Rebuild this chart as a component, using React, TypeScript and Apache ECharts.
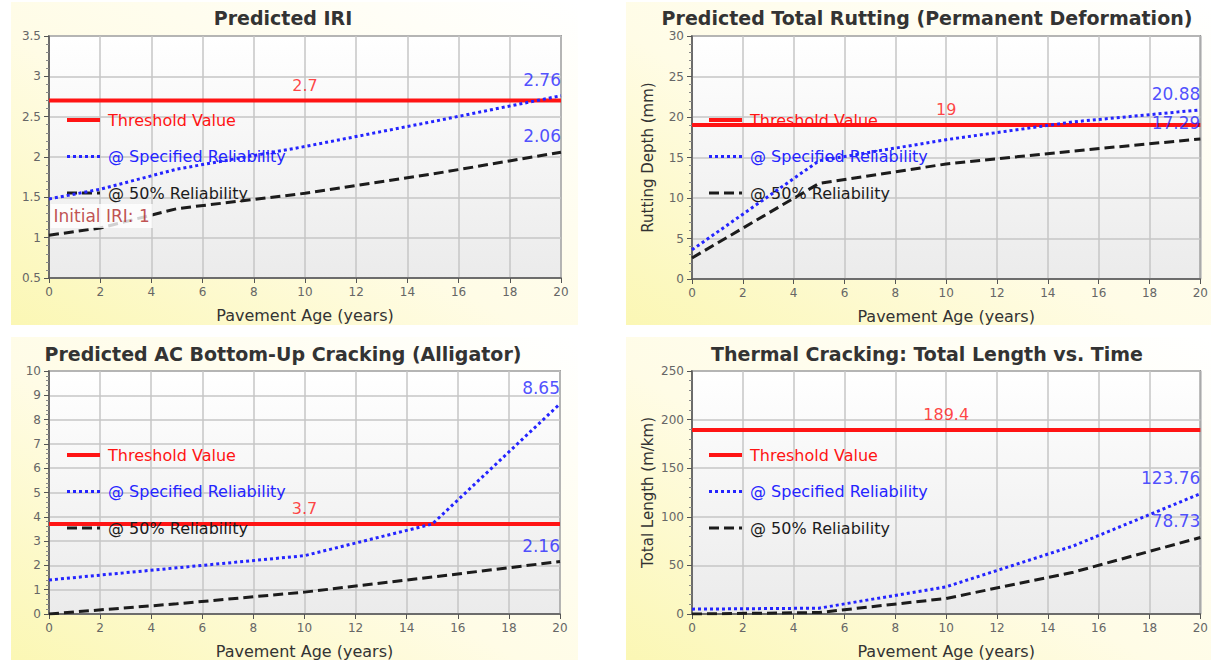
import React, { useEffect, useRef } from "react";
import * as echarts from "echarts";

// ---------- data ----------
const xTicks = { min: 0, max: 20, interval: 2 };

const iriYears = [0, 2, 5, 10, 15, 20];
const iriSpecified = [1.48, 1.6, 1.85, 2.13, 2.44, 2.76];
const iri50 = [1.03, 1.12, 1.36, 1.55, 1.79, 2.06];
const iriThreshold = 2.7;
const initialIRI = 1;

const rutYears = [0, 5, 10, 15, 20];
const rutSpecified = [3.6, 14.6, 17.2, 19.4, 20.88];
const rut50 = [2.6, 11.8, 14.2, 15.8, 17.29];
const rutThreshold = 19;

const crackYears = [0, 5, 10, 15, 20];
const crackSpecified = [1.4, 1.9, 2.4, 3.7, 8.65];
const crack50 = [0, 0.42, 0.9, 1.52, 2.16];
const crackThreshold = 3.7;

const thermYears = [0, 5, 10, 15, 20];
const thermSpecified = [5, 6, 28, 70, 123.76];
const therm50 = [0, 1.5, 16, 43, 78.73];
const thermThreshold = 189.4;

const seriesNames = ["Threshold Value", "@ Specified Reliability", "@ 50% Reliability"];
const xAxisName = "Pavement Age (years)";

const panels = [
  {
    title: "Predicted IRI",
    yMin: 0.5, yMax: 3.5, yInterval: 0.5, yName: "",
    years: iriYears, spec: iriSpecified, p50: iri50, threshold: iriThreshold,
    grid: { left: 49, top: 36, width: 512, height: 242 },
    bg: { x: 11, y: 2, w: 567, h: 323 },
    titleX: 283, titleY: 18,
    legend: { left: 65, top: 112 },
  },
  {
    title: "Predicted Total Rutting (Permanent Deformation)",
    yMin: 0, yMax: 30, yInterval: 5, yName: "Rutting Depth (mm)",
    years: rutYears, spec: rutSpecified, p50: rut50, threshold: rutThreshold,
    grid: { left: 692, top: 36, width: 512, height: 243 },
    bg: { x: 626, y: 2, w: 585, h: 323 },
    titleX: 927, titleY: 18,
    legend: { left: 707, top: 112 },
  },
  {
    title: "Predicted AC Bottom-Up Cracking (Alligator)",
    yMin: 0, yMax: 10, yInterval: 1, yName: "",
    years: crackYears, spec: crackSpecified, p50: crack50, threshold: crackThreshold,
    grid: { left: 49, top: 371, width: 511, height: 243 },
    bg: { x: 11, y: 337, w: 567, h: 323 },
    titleX: 283, titleY: 354,
    legend: { left: 65, top: 447 },
  },
  {
    title: "Thermal Cracking: Total Length vs. Time",
    yMin: 0, yMax: 250, yInterval: 50, yName: "Total Length (m/km)",
    years: thermYears, spec: thermSpecified, p50: therm50, threshold: thermThreshold,
    grid: { left: 692, top: 371, width: 512, height: 243 },
    bg: { x: 626, y: 337, w: 585, h: 323 },
    titleX: 927, titleY: 354,
    legend: { left: 707, top: 447 },
  },
];

const RED = "#ff1414";
const BLUE = "#2424ff";
const BLACK = "#1c1c1c";
const FONT = "DejaVu Sans";

export default function App() {
  const ref = useRef<HTMLDivElement>(null);

  useEffect(() => {
    if (!ref.current) return;
    const chart = echarts.init(ref.current, null, { renderer: "svg" });

    const grids: any[] = [];
    const xAxes: any[] = [];
    const yAxes: any[] = [];
    const legends: any[] = [];
    const series: any[] = [];
    const graphics: any[] = [];

    panels.forEach((p, i) => {
      graphics.push({
        type: "rect",
        z: -10,
        shape: { x: p.bg.x, y: p.bg.y, width: p.bg.w, height: p.bg.h },
        style: {
          fill: new echarts.graphic.LinearGradient(0, 1, 1, 0, [
            { offset: 0, color: "#fbf7b4" },
            { offset: 0.45, color: "#fffce6" },
            { offset: 1, color: "#ffffff" },
          ]),
        },
      });
      graphics.push({
        type: "text",
        x: p.titleX,
        y: p.titleY,
        z: 10,
        style: {
          text: p.title,
          fill: "#333333",
          fontSize: 19,
          fontWeight: "bold",
          fontFamily: FONT,
          textAlign: "center",
          textVerticalAlign: "middle",
        },
      });

      grids.push({
        ...p.grid,
        show: true,
        borderColor: "#5a5a5a",
        borderWidth: 1.5,
        backgroundColor: new echarts.graphic.LinearGradient(0, 0, 0, 1, [
          { offset: 0, color: "#ffffff" },
          { offset: 1, color: "#ebebeb" },
        ]),
      });

      xAxes.push({
        type: "value",
        gridIndex: i,
        min: xTicks.min,
        max: xTicks.max,
        interval: xTicks.interval,
        name: xAxisName,
        nameLocation: "middle",
        nameGap: 29,
        nameTextStyle: { color: "#333", fontSize: 16, fontFamily: FONT },
        axisLine: { lineStyle: { color: "#555", width: 1.5 } },
        axisTick: { show: true, length: 5, lineStyle: { color: "#555" } },
        axisLabel: { color: "#666", fontSize: 12, margin: 8, fontFamily: FONT },
        splitLine: { show: true, lineStyle: { color: "#c6c6c6", width: 1.5 } },
      });

      yAxes.push({
        type: "value",
        gridIndex: i,
        min: p.yMin,
        max: p.yMax,
        interval: p.yInterval,
        name: p.yName,
        nameLocation: "middle",
        nameRotate: 90,
        nameGap: 37,
        nameTextStyle: { color: "#333", fontSize: 15, fontFamily: FONT },
        axisLine: { show: true, lineStyle: { color: "#555", width: 1.5 } },
        axisTick: { show: true, length: 5, lineStyle: { color: "#555" } },
        minorTick: { show: true, splitNumber: 5, length: 3, lineStyle: { color: "#888" } },
        axisLabel: { color: "#666", fontSize: 12, margin: 8, fontFamily: FONT },
        splitLine: { show: true, lineStyle: { color: "#c6c6c6", width: 1.5 } },
      });

      legends.push({
        orient: "vertical",
        left: p.legend.left,
        top: p.legend.top,
        padding: 0,
        itemWidth: 33,
        itemHeight: 14,
        itemGap: 20.5,
        selectedMode: false,
        itemStyle: { opacity: 0, borderWidth: 0 },
        lineStyle: { width: "inherit", type: "inherit" },
        textStyle: { fontSize: 16, fontFamily: FONT, padding: [0, 0, 0, 3] },
        data: [
          { name: seriesNames[0], textStyle: { color: RED } },
          { name: seriesNames[1], textStyle: { color: BLUE } },
          { name: seriesNames[2], textStyle: { color: BLACK } },
        ],
      });

      const common = { xAxisIndex: i, yAxisIndex: i, symbol: "none", silent: true };
      series.push({
        ...common,
        type: "line",
        name: seriesNames[0],
        z: 3,
        data: [[xTicks.min, p.threshold], [xTicks.max, p.threshold]],
        lineStyle: { color: RED, width: 4 },
        itemStyle: { color: RED },
      });
      series.push({
        ...common,
        type: "line",
        name: seriesNames[1],
        z: 4,
        data: p.years.map((y, k) => [y, p.spec[k]]),
        lineStyle: { color: BLUE, width: 3, type: "dotted" },
        itemStyle: { color: BLUE },
      });
      series.push({
        ...common,
        type: "line",
        name: seriesNames[2],
        z: 4,
        data: p.years.map((y, k) => [y, p.p50[k]]),
        lineStyle: { color: BLACK, width: 3, type: [10, 5] },
        itemStyle: { color: BLACK },
      });

      // value labels
      const last = p.years.length - 1;
      series.push({
        type: "scatter",
        xAxisIndex: i,
        yAxisIndex: i,
        silent: true,
        symbolSize: 1,
        z: 6,
        itemStyle: { color: "rgba(0,0,0,0)" },
        data: [
          { value: [p.years[last], p.spec[last]] },
          { value: [p.years[last], p.p50[last]] },
        ],
        label: {
          show: true,
          position: "top",
          align: "right",
          distance: 7,
          color: BLUE,
          fontSize: 17,
          fontFamily: FONT,
          formatter: (d: any) => String(d.value[1]),
        },
      });
      series.push({
        type: "scatter",
        xAxisIndex: i,
        yAxisIndex: i,
        silent: true,
        symbolSize: 1,
        z: 6,
        itemStyle: { color: "rgba(0,0,0,0)" },
        data: [[(xTicks.min + xTicks.max) / 2, p.threshold]],
        label: {
          show: true,
          position: "top",
          distance: 7,
          color: RED,
          fontSize: 16,
          fontFamily: FONT,
          formatter: (d: any) => String(d.value[1]),
        },
      });
    });

    // Initial IRI annotation on the first panel
    series.push({
      type: "scatter",
      xAxisIndex: 0,
      yAxisIndex: 0,
      silent: true,
      symbolSize: 1,
      z: 7,
      itemStyle: { color: "rgba(0,0,0,0)" },
      data: [[0, 1.27]],
      label: {
        show: true,
        position: "right",
        distance: 1,
        color: "#b02525",
        backgroundColor: "#ffffff",
        padding: [4, 3, 3, 3],
        fontSize: 17,
        fontFamily: FONT,
        formatter: () => "Initial IRI: " + initialIRI,
      },
    });

    chart.setOption({
      animation: false,
      textStyle: { fontFamily: FONT },
      graphic: graphics,
      grid: grids,
      xAxis: xAxes,
      yAxis: yAxes,
      legend: legends,
      series,
    });

    return () => chart.dispose();
  }, []);

  return (
    <div
      ref={ref}
      style={{ position: "absolute", left: 0, top: 0, width: 1211, height: 662, background: "#ffffff" }}
    />
  );
}
